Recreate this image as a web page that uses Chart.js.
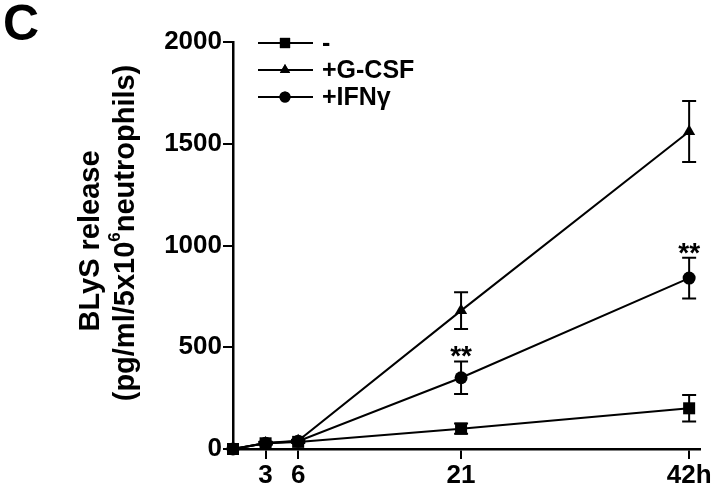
<!DOCTYPE html>
<html>
<head>
<meta charset="utf-8">
<script src="https://cdn.jsdelivr.net/npm/chart.js@4/dist/chart.umd.min.js"></script>
<style>
  html, body { margin: 0; padding: 0; background: #fff; }
  #wrap { position: relative; width: 720px; height: 490px; }
</style>
</head>
<body>
<div id="wrap"><canvas id="BLyS"></canvas></div>
<script>
// data (panel C)
const hours = [0, 3, 6, 21, 42];
const xTickValues = [3, 6, 21, 42];
const xTickLabels = ["3", "6", "21", "42h"];
const yTickValues = [0, 500, 1000, 1500, 2000];
const seriesLabels = ["-", "+G-CSF", "+IFNγ"];
const controlMean = [0, 28, 35, 100, 200];
const controlErr = [0, 6, 6, 25, 65];
const gcsfMean = [0, 30, 40, 680, 1560];
const gcsfErr = [0, 6, 6, 90, 150];
const ifnMean = [0, 28, 38, 350, 840];
const ifnErr = [0, 6, 6, 80, 100];
const ifnStars = ["", "", "", "**", "**"];

const FONT = "'Liberation Sans', Arial, sans-serif";

function pts(means) {
    return hours.map((h, i) => ({ x: h, y: means[i] }));
}

const errors = [controlErr, gcsfErr, ifnErr];
const markers = [
    { style: "rect", radius: 8.5 },
    { style: "triangle", radius: 7 },
    { style: "circle", radius: 6.5 },
];

const extras = {
    id: "extras",
    afterDatasetsDraw(chart) {
        const ctx = chart.ctx;
        const xs = chart.scales.x;
        const ys = chart.scales.y;
        ctx.save();
        ctx.strokeStyle = "#000";
        ctx.lineWidth = 2;
        // error bars
        chart.data.datasets.forEach((ds, di) => {
            ds.data.forEach((p, i) => {
                const e = errors[di][i];
                if (!e) return;
                const px = xs.getPixelForValue(p.x);
                const top = ys.getPixelForValue(p.y + e);
                const bot = ys.getPixelForValue(p.y - e);
                ctx.beginPath();
                ctx.moveTo(px, top);
                ctx.lineTo(px, bot);
                ctx.moveTo(px - 7, top);
                ctx.lineTo(px + 7, top);
                ctx.moveTo(px - 7, bot);
                ctx.lineTo(px + 7, bot);
                ctx.stroke();
            });
        });
        // significance stars over IFN
        ctx.fillStyle = "#000";
        ctx.font = "bold 28px " + FONT;
        ctx.textAlign = "center";
        ctx.textBaseline = "alphabetic";
        ifnStars.forEach((s, i) => {
            if (!s) return;
            const px = xs.getPixelForValue(hours[i]);
            const top = ys.getPixelForValue(ifnMean[i] + ifnErr[i]);
            ctx.fillText(s, px, top + 4);
        });
        ctx.restore();
    },
    afterDraw(chart) {
        const ctx = chart.ctx;
        ctx.save();
        ctx.fillStyle = "#000";
        ctx.strokeStyle = "#000";
        // panel letter
        ctx.font = "bold 50px " + FONT;
        ctx.textAlign = "left";
        ctx.textBaseline = "alphabetic";
        ctx.fillText("C", 3, 40);

        // legend
        ctx.font = "bold 25px " + FONT;
        ctx.textBaseline = "middle";
        seriesLabels.forEach((lbl, i) => {
            const y = 43 + i * 27;
            ctx.lineWidth = 2;
            ctx.beginPath();
            ctx.moveTo(258, y);
            ctx.lineTo(313, y);
            ctx.stroke();
            Chart.helpers.drawPoint(ctx, {
                pointStyle: markers[i].style,
                radius: markers[i].radius * 0.85,
                borderWidth: 0,
            }, 285, y);
            ctx.fill();
            ctx.fillText(lbl, 322, y + 1);
        });

        // y axis title, two rotated lines
        ctx.save();
        ctx.translate(91, 241);
        ctx.rotate(-Math.PI / 2);
        ctx.textAlign = "center";
        ctx.textBaseline = "middle";
        ctx.font = "bold 29px " + FONT;
        ctx.fillText("BLyS release", 0, 0);
        // second line with superscript 6
        const a = "(pg/ml/5x10", sup = "6", b = "neutrophils)";
        const wa = ctx.measureText(a).width, wb = ctx.measureText(b).width;
        ctx.font = "bold 17px " + FONT;
        const ws = ctx.measureText(sup).width;
        const x0 = 8 - (wa + ws + wb) / 2;
        ctx.textAlign = "left";
        ctx.font = "bold 29px " + FONT;
        ctx.fillText(a, x0, 35);
        ctx.font = "bold 17px " + FONT;
        ctx.fillText(sup, x0 + wa, 24);
        ctx.font = "bold 29px " + FONT;
        ctx.fillText(b, x0 + wa + ws, 35);
        ctx.restore();
        ctx.restore();
    },
};

const mk = (label, means, i) => ({
    label: label,
    data: pts(means),
    borderColor: "#000",
    backgroundColor: "#000",
    borderWidth: 2,
    tension: 0,
    clip: false,
    pointStyle: markers[i].style,
    pointRadius: markers[i].radius,
    pointBorderWidth: 0,
    pointHoverRadius: markers[i].radius,
});

document.addEventListener("DOMContentLoaded", () => {
    const ctx = document.getElementById("BLyS").getContext("2d");
    new Chart(ctx, {
        type: "line",
        data: {
            datasets: [
                mk(seriesLabels[0], controlMean, 0),
                mk(seriesLabels[1], gcsfMean, 1),
                mk(seriesLabels[2], ifnMean, 2),
            ],
        },
        options: {
            responsive: true,
            maintainAspectRatio: false,
            animation: false,
            devicePixelRatio: 1,
            layout: { padding: { left: 0, top: 42, right: 20, bottom: 0 } },
            scales: {
                x: {
                    type: "linear",
                    min: 0,
                    max: 43,
                    afterBuildTicks: (scale) => {
                        scale.ticks = xTickValues.map((v) => ({ value: v }));
                    },
                    afterFit: (scale) => { scale.height = 41; },
                    border: { display: true, color: "#000", width: 2.5 },
                    grid: {
                        display: true,
                        drawOnChartArea: false,
                        drawTicks: true,
                        tickLength: 10,
                        color: "#000",
                        lineWidth: 2,
                    },
                    ticks: {
                        color: "#000",
                        padding: 1,
                        maxRotation: 0,
                        autoSkip: false,
                        font: { family: FONT, size: 26, weight: "bold" },
                        callback: (v) => xTickLabels[xTickValues.indexOf(v)],
                    },
                },
                y: {
                    min: 0,
                    max: 2000,
                    afterBuildTicks: (scale) => {
                        scale.ticks = yTickValues.map((v) => ({ value: v }));
                    },
                    afterFit: (scale) => { scale.width = 233; },
                    border: { display: true, color: "#000", width: 2.5 },
                    grid: {
                        display: true,
                        drawOnChartArea: false,
                        drawTicks: true,
                        tickLength: 10,
                        color: "#000",
                        lineWidth: 2,
                    },
                    ticks: {
                        color: "#000",
                        padding: 1,
                        font: { family: FONT, size: 26, weight: "bold" },
                        callback: (v) => String(v),
                    },
                },
            },
            plugins: {
                legend: { display: false },
                tooltip: { enabled: false },
            },
        },
        plugins: [extras],
    });
});
</script>
</body>
</html>
